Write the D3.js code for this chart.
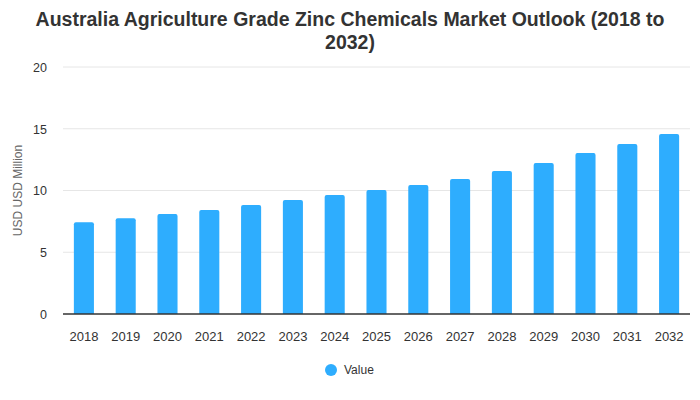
<!DOCTYPE html>
<html>
<head>
<meta charset="utf-8">
<script src="https://cdn.jsdelivr.net/npm/d3@7"></script>
<style>
  body { margin: 0; background: #fff; }
  svg { font-family: "Liberation Sans", Arial, Helvetica, sans-serif; }
</style>
</head>
<body>
<div id="chart"></div>
<script>
// chart data
const years = ['2018','2019','2020','2021','2022','2023','2024','2025','2026','2027','2028','2029','2030','2031','2032']
const values = [7.42, 7.75, 8.1, 8.42, 8.83, 9.23, 9.64, 10.04, 10.45, 10.93, 11.58, 12.23, 13.04, 13.77, 14.57]
const yTicks = [0, 5, 10, 15, 20]
const titleLines = ['Australia Agriculture Grade Zinc Chemicals Market Outlook (2018 to', '2032)']
const yLabel = 'USD USD Million'
const seriesName = 'Value'

const width = 700, height = 400
const margin = {top: 67, right: 10, bottom: 86, left: 63}
const barColor = '#2eadfe'

const svg = d3.select('#chart').append('svg')
  .attr('width', width)
  .attr('height', height)

// title
svg.append('g').selectAll('text').data(titleLines).enter().append('text')
  .attr('x', width / 2)
  .attr('y', (d, i) => 26 + i * 23)
  .attr('text-anchor', 'middle')
  .style('font-size', '19.5px')
  .style('font-weight', 'bold')
  .style('fill', '#333')
  .text(d => d)

const x = d3.scaleBand()
  .domain(years)
  .range([margin.left, width - margin.right])
  .paddingInner(0.52)
  .paddingOuter(0.26)

const y = d3.scaleLinear()
  .domain([0, 20])
  .range([height - margin.bottom, margin.top])

// gridlines
svg.append('g').selectAll('line').data(yTicks.filter(d => d > 0)).enter().append('line')
  .attr('x1', margin.left)
  .attr('x2', width - margin.right)
  .attr('y1', d => y(d))
  .attr('y2', d => y(d))
  .attr('stroke', '#e6e6e6')
  .attr('stroke-width', 1)

// y axis labels
const yAxis = svg.append('g')
  .attr('transform', 'translate(' + (margin.left - 16) + ',0)')
  .call(d3.axisLeft(y).tickValues(yTicks).tickSize(0).tickPadding(0))
yAxis.select('.domain').remove()
yAxis.selectAll('text')
  .style('font-size', '12.5px')
  .style('fill', '#333')
  .attr('dy', '0.35em')

svg.append('text')
  .attr('transform', 'translate(22,' + ((y(0) + y(20)) / 2) + ') rotate(-90)')
  .attr('text-anchor', 'middle')
  .style('font-size', '12px')
  .style('fill', '#666')
  .text(yLabel)

// bars with rounded top corners
const r = 2
svg.append('g').selectAll('path').data(values).enter().append('path')
  .attr('fill', barColor)
  .attr('d', function(d, i) {
    let x0 = x(years[i]), w = x.bandwidth()
    let y0 = y(d), yb = y(0)
    return 'M' + x0 + ',' + yb +
      'V' + (y0 + r) +
      'Q' + x0 + ',' + y0 + ' ' + (x0 + r) + ',' + y0 +
      'H' + (x0 + w - r) +
      'Q' + (x0 + w) + ',' + y0 + ' ' + (x0 + w) + ',' + (y0 + r) +
      'V' + yb + 'Z'
  })

// x axis
const xAxis = svg.append('g')
  .attr('transform', 'translate(0,' + y(0) + ')')
  .call(d3.axisBottom(x).tickSize(0).tickPadding(18))
xAxis.select('.domain')
  .attr('stroke', '#333')
  .attr('stroke-width', 1.5)
  .attr('d', 'M' + margin.left + ',0H' + (width - margin.right))
xAxis.selectAll('text')
  .style('font-size', '13px')
  .style('fill', '#333')

// legend
const legend = svg.append('g').attr('transform', 'translate(331,370)')
legend.append('circle').attr('r', 6).attr('fill', barColor)
legend.append('text')
  .attr('x', 13)
  .attr('dy', '0.35em')
  .style('font-size', '12px')
  .style('fill', '#333')
  .text(seriesName)
</script>
</body>
</html>
